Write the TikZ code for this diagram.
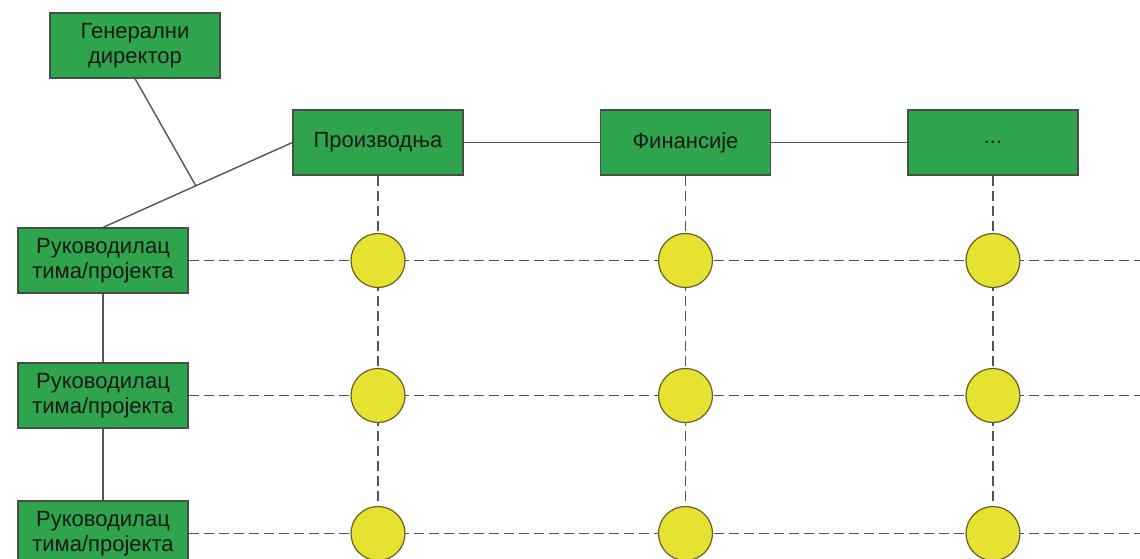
\documentclass[tikz,border=0pt]{standalone}
\usepackage{fontspec}
\setmainfont{Liberation Sans}
\usetikzlibrary{calc}
\definecolor{boxgreen}{RGB}{46,164,76}
\definecolor{boxline}{RGB}{70,80,72}
\definecolor{hubyellow}{RGB}{230,226,50}
\definecolor{hubline}{RGB}{105,95,35}
\definecolor{wire}{RGB}{85,85,85}
\tikzset{
  unitbox/.style={draw=boxline, fill=boxgreen, line width=1.2pt,
    minimum width=170pt, minimum height=65pt, inner sep=0pt,
    align=center, text=black!90, font=\fontsize{22}{25.5}\selectfont},
  hub/.style={circle, draw=hubline, fill=hubyellow, line width=1.2pt,
    minimum size=54pt, inner sep=0pt},
  link/.style={draw=wire, line width=1.4pt},
  matrixline/.style={draw=wire, line width=1.4pt, dash pattern=on 10pt off 5pt}
}
\begin{document}
\begin{tikzpicture}[x=1pt,y=-1pt]
\clip (0,0) rectangle (1140,559);
\fill[white] (0,0) rectangle (1140,559);

% top management and functional departments
\node[unitbox] (gd) at (135,45.5) {Генерални\\директор};
\node[unitbox] (p1) at (378,142.5) {Производња};
\node[unitbox] (p2) at (685.5,142.5) {Финансије};
\node[unitbox] (p3) at (993,142.5) {...};

% project managers
\node[unitbox] (m1) at (103,260.5) {Руководилац\\тима/пројекта};
\node[unitbox] (m2) at (103,395.5) {Руководилац\\тима/пројекта};
\node[unitbox] (m3) at (103,533.5) {Руководилац\\тима/пројекта};

% free ends of the matrix lines
\coordinate (r1) at (1140,260.5);
\coordinate (r2) at (1140,395.5);
\coordinate (r3) at (1140,533.5);
\coordinate (b1) at (378,559);
\coordinate (b2) at (685.5,559);
\coordinate (b3) at (993,559);

% dashed matrix lines (drawn under the hubs)
\foreach \i in {1,2,3}{
  \draw[matrixline] (p\i.south) -- (b\i);
  \draw[matrixline] (m\i.east) -- (r\i);
}

% intersection hubs
\foreach \i/\x in {1/378,2/685.5,3/993}{
  \node[hub] (h\i1) at (\x,260.5) {};
  \node[hub] (h\i2) at (\x,395.5) {};
  \node[hub] (h\i3) at (\x,533.5) {};
}

% solid links
\draw[link] (p1) -- (p2);
\draw[link] (p2) -- (p3);
\coordinate (j) at ($(m1.north)!0.49!(p1.west)$);
\draw[link] (m1.north) -- (p1.west);
\draw[link] (gd.south) -- (j);
\draw[link] (m1) -- (m2);
\draw[link] (m2) -- (m3);

% redraw boxes above the links
\node[unitbox] at (m1) {Руководилац\\тима/пројекта};
\node[unitbox] at (m2) {Руководилац\\тима/пројекта};
\node[unitbox] at (m3) {Руководилац\\тима/пројекта};
\end{tikzpicture}
\end{document}
